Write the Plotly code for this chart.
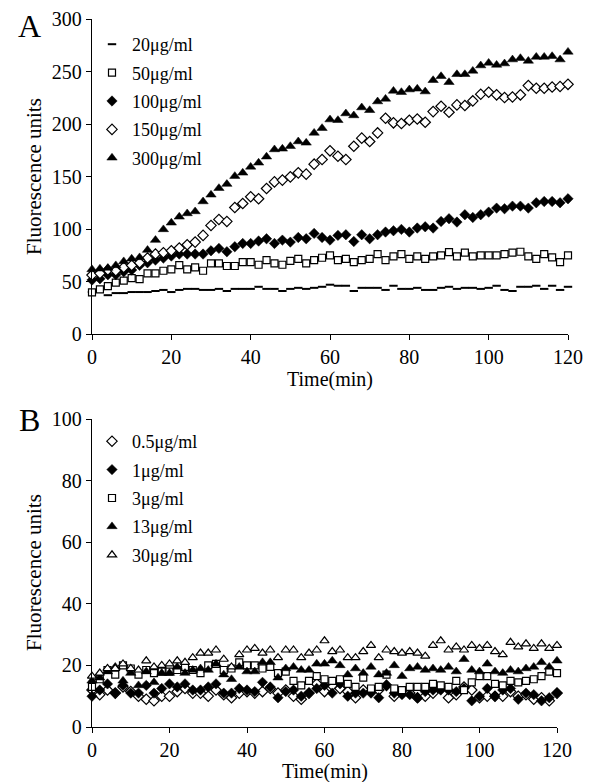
import plotly.graph_objects as go

time_min = list(range(0, 121, 2))

# Panel A series (fluorescence units)
a_20 = [40,42,37,39,39,40,40,40,41,42, 40,42,43,43,42,42,43,41,43,43,
        43,45,43,43,41,43,44,43,44,45, 47,46,46,41,44,44,44,42,46,43,
        43,44,42,42,44,45,43,44,44,43, 44,46,42,41,45,45,46,43,46,42, 45]
a_50 = [39.7,42.5,45.7,48.9,50.8,53.3,52.4,57.8,57.8,60.3, 61.6,65.7,61.6,63.5,60.3,67.3,67.3,64.8,64.8,68.6,
        68.6,66,70.5,67.3,66,69.8,71.7,67.3,70.5,72.7, 74.9,70.5,71.7,68.6,70.5,71.7,76.2,70.5,74,76.2,
        71.7,74,71.7,74,74.9,78.1,74,77.5,74,74.9, 74.9,74.9,76.2,77.5,78.4,74,71.7,76.2,73,68.6, 74.9]
a_100 = [51.4,52.7,56.5,56.5,59.4,61,65.4,67.9,70.5,72.4, 74.3,76.2,76.2,76.2,76.2,79.3,81.6,78.4,83.2,86.3,
         86.3,88.6,90.8,86.3,89.5,87.6,92,90.8,95.9,92, 89.5,94,94.6,88.2,94.6,90.8,94.6,97.2,98.4,99.7,
         97.2,101,102.2,101,107.3,109.9,106.7,113.7,111.1,113.7, 116.2,120,119.4,121.9,121.9,120,125.1,126.3,126.3,125.1, 128.9]
a_150 = [56.2,57.8,61,60.3,63.5,65.4,67.9,72.4,76.2,77.5, 79.4,81.9,85.1,87.6,94,103.5,109.2,107.3,120.6,124.4,
         130.8,128.9,138.7,145,146.7,149.8,153.6,152.4,161.9,166.3, 174.6,169.5,166.3,179,186.7,183.5,191.7,205.7,201.3,200.6,
         203.8,205,201.9,212,217.1,211.4,218.4,217.8,222.2,228.6, 230.5,228,225.4,226,228,236.8,234.3,234.3,235.5,236, 238]
a_300 = [61.6,62.2,62.9,65.4,69.2,71.7,73,80,89.5,99.7, 106,111.7,114.9,116.8,126.3,132.7,139,142.9,150.5,153.6,
         159.3,163.2,169,175.9,176.5,179,183.5,182.2,191.7,196.2, 204.4,203.8,210.2,208.3,215.9,213.3,221.6,224.1,231.7,230.5,
         233,233.7,231.1,241.9,245.7,240,247.6,247.6,250.8,255.9, 258.4,256.5,257.8,261.6,262.9,260.3,264.1,264.1,264.8,261.6, 268.9]

# Panel B series
b_05 = [12,10.5,12,11,13,11.5,10,9,8.5,10, 10,11.5,12.5,11,11,10,12,10.5,9.5,11,
        11.5,11,11.5,12.5,11,12,10,9,11,14, 11.5,13.5,12.5,11.5,9.5,12,11.5,12,13.5,10,
        11,11,9.5,10,11,12.5,9.5,10.5,13,12, 9.5,10,10,10,11.5,10,10.5,9,9.5,8.5, 11]
b_1 = [10,12,14,11,13.5,11,11,13.5,11,12.5, 14,13,14,12,12,13,14,11,11,12.5,
       12,11.5,14.5,13,9.5,11.5,12,10,11,12.5, 13.5,11,14,10,11,11,11,9.5,13.5,11,
       10.5,10.5,9.5,11.5,12,12,12,11.5,12.5,8.5, 10,12.5,10,12,12.5,9,11,10.5,8.5,9.5, 11]
b_3 = [13,15.5,18.5,17,20,19,17,18.5,17.5,18, 18,18.5,19.5,18.5,17.5,20,20.5,18.5,19,21,
       20,20,19,19.5,17.5,18,15,13.5,15,16.5, 15.5,15,15.5,14,13,16,12.5,13,17,12.5,
       12,13,13,13,14,13.5,13,15,12,14.5, 16.5,16.5,14,13.5,15,14.5,15,15.5,16.5,18, 17.5]
b_13 = [15,16,18,19.5,15,17.5,13.5,18,14.5,17.5, 17.5,19.5,17.5,18.5,19,18.5,20.5,17,15.5,19.5,
        18,18,21,21,16,19,19.5,18.5,18.5,20.5, 20.5,21.5,20,17,19,17.5,19.5,17,17.5,20,
        16.5,19,19.5,18.5,19,18.5,19.5,18,22,18.5, 18,20.5,18,17.5,18.5,18,19,19.5,21,19.5, 21.5]
b_30 = [16.5,17.5,19,19,20.5,19,18.5,21.5,19.5,20, 20.5,21.5,21,22.5,24,24,25,22,19.5,23.5,
        25,25.5,24,25,22.5,25,25,22.5,24,25, 28,24.5,25,22.5,22.5,24.5,26.5,22.5,25,24.5,
        24,24.5,24,23,26.5,28,25,26,25,26.5, 25.5,26.5,24.5,23.5,27.5,26,27,25.5,27,25.5, 26.5]

labels_a = ["20μg/ml", "50μg/ml", "100μg/ml", "150μg/ml", "300μg/ml"]
labels_b = ["0.5μg/ml", "1μg/ml", "3μg/ml", "13μg/ml", "30μg/ml"]

FONT = "Liberation Serif"
# the page body adds an 8px margin, so the figure is drawn 8px smaller and
# all layout positions below are given in window pixels
OFF = 8
W, H = 595 - OFF, 782 - OFF

def px_x(p):
    return (p - OFF) / W

def px_y(p):
    return 1 - (p - OFF) / H

fig = go.Figure()

def mk(symbol, size, filled, lw=1.2):
    return dict(symbol=symbol, size=size,
                color="black" if filled else "white",
                line=dict(color="black", width=lw))

styles_a = [
    dict(symbol="line-ew", size=6, color="black", line=dict(color="black", width=2)),
    mk("square", 7, False),
    mk("diamond", 8, True, 0.5),
    mk("diamond", 8, False),
    mk("triangle-up", 9, True, 0.5),
]
for i, (ys, lab, st) in enumerate(zip([a_20, a_50, a_100, a_150, a_300], labels_a, styles_a)):
    fig.add_trace(go.Scatter(x=time_min, y=ys, mode="markers", name=lab, marker=st,
                             xaxis="x", yaxis="y", cliponaxis=False, legend="legend",
                             legendgroup="a%d" % i))

styles_b = [
    mk("diamond", 8, False),
    mk("diamond", 8, True, 0.5),
    mk("square", 7, False),
    mk("triangle-up", 9, True, 0.5),
    mk("triangle-up", 8, False),
]
for i, (ys, lab, st) in enumerate(zip([b_05, b_1, b_3, b_13, b_30], labels_b, styles_b)):
    fig.add_trace(go.Scatter(x=time_min, y=ys, mode="markers", name=lab, marker=st,
                             xaxis="x2", yaxis="y2", cliponaxis=False, legend="legend2",
                             legendgroup="b%d" % i))

axis_common = dict(showline=True, linecolor="black", linewidth=1.3, ticks="outside",
                   ticklen=5, tickwidth=1.3, tickcolor="black", showgrid=False, zeroline=False,
                   automargin=False,
                   tickfont=dict(family=FONT, size=20, color="black"), fixedrange=True)

leg_common = dict(xanchor="left", yanchor="top",
                  font=dict(family=FONT, size=18, color="black"), bgcolor="rgba(0,0,0,0)",
                  tracegroupgap=2, itemsizing="trace")

fig.update_layout(
    template="none",
    width=W, height=H, margin=dict(l=0, r=0, t=0, b=0, autoexpand=False),
    paper_bgcolor="white", plot_bgcolor="white",
    font=dict(family=FONT, color="black"),
    xaxis=dict(domain=[px_x(92), px_x(568)], range=[0, 120], dtick=20, anchor="y", **axis_common),
    yaxis=dict(domain=[px_y(334), px_y(19.3)], range=[0, 300], dtick=50, anchor="x", **axis_common),
    xaxis2=dict(domain=[px_x(92), px_x(557)], range=[0, 120], dtick=20, anchor="y2", **axis_common),
    yaxis2=dict(domain=[px_y(727), px_y(419)], range=[0, 100], dtick=20, anchor="x2", **axis_common),
    legend=dict(x=px_x(92), y=px_y(26), **leg_common),
    legend2=dict(x=px_x(92), y=px_y(423), **leg_common),
    showlegend=True,
)

ann = [
    dict(text="A", x=px_x(29), y=px_y(26), font=dict(size=32)),
    dict(text="B", x=px_x(29), y=px_y(420), font=dict(size=32)),
    dict(text="Fluorescence units", x=px_x(34), y=px_y(177), textangle=-90, font=dict(size=21)),
    dict(text="Fluorescence units", x=px_x(34), y=px_y(573), textangle=-90, font=dict(size=21)),
    dict(text="Time(min)", x=px_x(330), y=px_y(379), font=dict(size=20)),
    dict(text="Time(min)", x=px_x(324.5), y=px_y(771), font=dict(size=20)),
]
for a in ann:
    a.update(xref="paper", yref="paper", showarrow=False, xanchor="center", yanchor="middle")
    a["font"] = dict(family=FONT, color="black", size=a["font"]["size"])
    fig.add_annotation(**a)

fig.write_html("out.html")
